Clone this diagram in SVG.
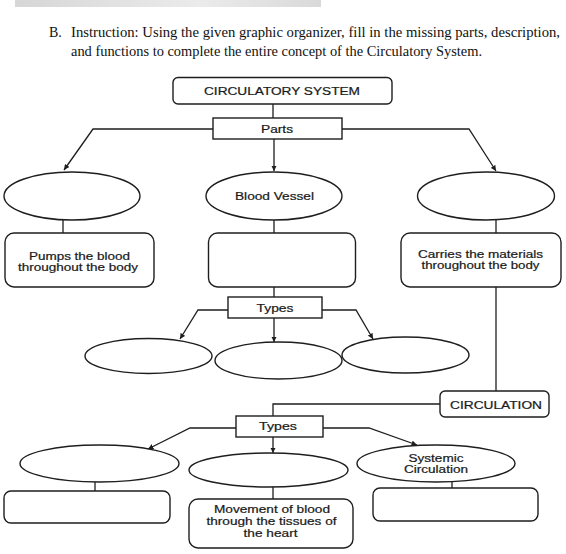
<svg xmlns="http://www.w3.org/2000/svg" width="566" height="554" viewBox="0 0 566 554">
<style>
.bx{fill:#fff;stroke:#1e1e1e;stroke-width:1.4}
.el{fill:#fff;stroke:#1e1e1e;stroke-width:1.4}
.cn{fill:none;stroke:#1e1e1e;stroke-width:1.3}
.t{font-family:"Liberation Sans",Arial,sans-serif;font-size:10px;fill:#1a1a1a;stroke:#1a1a1a;stroke-width:0.2;text-anchor:middle}
.ins{font-family:"Liberation Serif","Times New Roman",serif;font-size:14px;fill:#111}
</style>
<defs>
<linearGradient id="gb" x1="0" y1="0" x2="1" y2="0">
<stop offset="0" stop-color="#d6d6d6"/><stop offset="0.6" stop-color="#ebebeb"/><stop offset="1" stop-color="#d9d9d9"/>
</linearGradient>
<marker id="ah" viewBox="0 0 10 10" refX="10" refY="5" markerWidth="5.5" markerHeight="5.5" orient="auto" markerUnits="userSpaceOnUse">
<path d="M0,0 L10,5 L0,10 z" fill="#1e1e1e"/>
</marker>
</defs>
<rect width="566" height="554" fill="#fff"/>
<rect x="15" y="0" width="306" height="7" fill="url(#gb)"/>
<text class="ins" x="49" y="37">B.</text>
<text class="ins" x="71" y="37" textLength="489" lengthAdjust="spacingAndGlyphs">Instruction: Using the given graphic organizer, fill in the missing parts, description,</text>
<text class="ins" x="71" y="56" textLength="411" lengthAdjust="spacingAndGlyphs">and functions to complete the entire concept of the Circulatory System.</text>

<g id="connectors">
<path class="cn" d="M273,104 V118"/>
<path class="cn" d="M213,129 H93 L64,170" marker-end="url(#ah)"/>
<path class="cn" d="M274,139 V171" marker-end="url(#ah)"/>
<path class="cn" d="M342,129 H469 L496,171" marker-end="url(#ah)"/>
<path class="cn" d="M63,220 V233"/>
<path class="cn" d="M274,220 V233"/>
<path class="cn" d="M496,220 V233"/>
<path class="cn" d="M274,287 V297"/>
<path class="cn" d="M228,310 H198 L180,339" marker-end="url(#ah)"/>
<path class="cn" d="M274,318 V342" marker-end="url(#ah)"/>
<path class="cn" d="M322,310 H356 L373,339" marker-end="url(#ah)"/>
<path class="cn" d="M496,287 V391"/>
<path class="cn" d="M440,404 H273 V416"/>
<path class="cn" d="M236,428 H190 L148,449" marker-end="url(#ah)"/>
<path class="cn" d="M273,437 V453" marker-end="url(#ah)"/>
<path class="cn" d="M323,428 H369 L417,445" marker-end="url(#ah)"/>
<path class="cn" d="M95,482 V491"/>
<path class="cn" d="M273,487 V499"/>
<path class="cn" d="M452,482 V488"/>
</g>

<g id="circulatory-system">
<rect class="bx" x="173" y="77.5" width="219" height="26.5" rx="5"/>
<text class="t" x="282" y="94.5" textLength="156" lengthAdjust="spacingAndGlyphs">CIRCULATORY SYSTEM</text>
</g>
<g id="parts">
<rect class="bx" x="213" y="118" width="129" height="21"/>
<text class="t" x="277" y="133" textLength="32" lengthAdjust="spacingAndGlyphs">Parts</text>
</g>

<g id="part-left"><ellipse class="el" cx="72" cy="196" rx="68" ry="24"/></g>
<g id="blood-vessel">
<ellipse class="el" cx="274" cy="196" rx="68" ry="24"/>
<text class="t" x="274.5" y="199.5" textLength="79" lengthAdjust="spacingAndGlyphs">Blood Vessel</text>
</g>
<g id="part-right"><ellipse class="el" cx="486" cy="196" rx="68.5" ry="24"/></g>

<g id="desc-heart">
<rect class="bx" x="5" y="233" width="149" height="54" rx="9"/>
<text class="t" x="79.5" y="259.5" textLength="101" lengthAdjust="spacingAndGlyphs">Pumps the blood</text>
<text class="t" x="78" y="270.5" textLength="120" lengthAdjust="spacingAndGlyphs">throughout the body</text>
</g>
<g id="desc-vessel"><rect class="bx" x="208.5" y="233" width="147" height="54" rx="9"/></g>
<g id="desc-blood">
<rect class="bx" x="401" y="233" width="160" height="54" rx="9"/>
<text class="t" x="480.5" y="257.5" textLength="125" lengthAdjust="spacingAndGlyphs">Carries the materials</text>
<text class="t" x="480.5" y="268.5" textLength="118" lengthAdjust="spacingAndGlyphs">throughout the body</text>
</g>

<g id="types-vessel">
<rect class="bx" x="228" y="297" width="94" height="21"/>
<text class="t" x="275" y="312" textLength="37" lengthAdjust="spacingAndGlyphs">Types</text>
</g>
<g id="vessel-type-1"><ellipse class="el" cx="148.5" cy="356" rx="63.5" ry="17.5"/></g>
<g id="vessel-type-2"><ellipse class="el" cx="278.5" cy="360.5" rx="63.5" ry="18.5"/></g>
<g id="vessel-type-3"><ellipse class="el" cx="405.5" cy="355" rx="63.5" ry="18"/></g>

<g id="circulation">
<rect class="bx" x="440" y="391" width="109" height="26" rx="5"/>
<text class="t" x="496" y="408.5" textLength="92" lengthAdjust="spacingAndGlyphs">CIRCULATION</text>
</g>
<g id="types-circulation">
<rect class="bx" x="236" y="416" width="87" height="21"/>
<text class="t" x="278" y="430" textLength="38" lengthAdjust="spacingAndGlyphs">Types</text>
</g>

<g id="circ-type-1"><ellipse class="el" cx="99.5" cy="463.5" rx="79.5" ry="18.5"/></g>
<g id="circ-type-2"><ellipse class="el" cx="268.5" cy="470" rx="79.5" ry="17"/></g>
<g id="systemic-circulation">
<ellipse class="el" cx="436" cy="463.5" rx="79" ry="18.5"/>
<text class="t" x="436" y="462" textLength="55" lengthAdjust="spacingAndGlyphs">Systemic</text>
<text class="t" x="436" y="472.5" textLength="64" lengthAdjust="spacingAndGlyphs">Circulation</text>
</g>

<g id="desc-circ-1"><rect class="bx" x="4" y="491" width="166" height="32" rx="7"/></g>
<g id="desc-coronary">
<rect class="bx" x="189" y="499" width="164" height="49" rx="9"/>
<text class="t" x="272" y="513" textLength="116" lengthAdjust="spacingAndGlyphs">Movement of blood</text>
<text class="t" x="271.5" y="525" textLength="130" lengthAdjust="spacingAndGlyphs">through the tissues of</text>
<text class="t" x="270.5" y="537" textLength="54" lengthAdjust="spacingAndGlyphs">the heart</text>
</g>
<g id="desc-systemic"><rect class="bx" x="373" y="488" width="165" height="33" rx="7"/></g>
</svg>
